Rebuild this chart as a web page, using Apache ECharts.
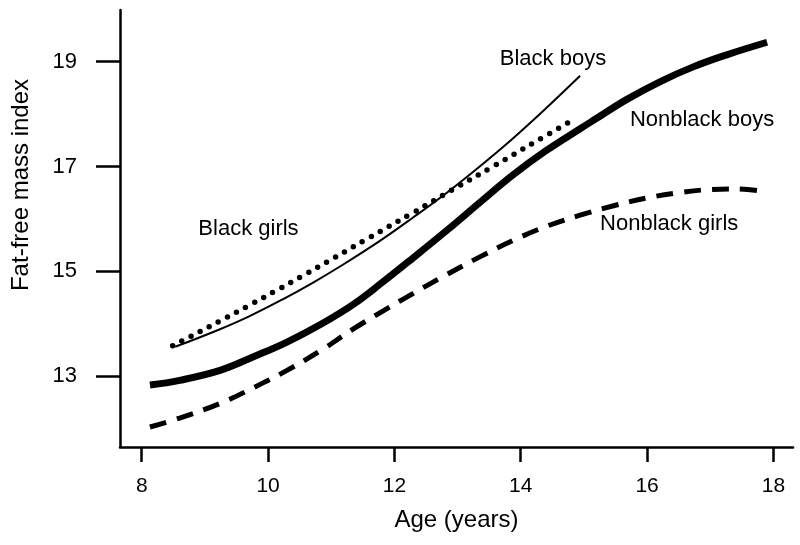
<!DOCTYPE html>
<html>
<head>
<meta charset="utf-8">
<script src="https://cdn.jsdelivr.net/npm/echarts@6/dist/echarts.min.js"></script>
<style>
html,body{margin:0;padding:0;background:#fff;}
#chart{width:800px;height:545px;}
</style>
</head>
<body>
<div id="chart"></div>
<script>
// Tick values
const xTicks = [8, 10, 12, 14, 16, 18];
const yTicks = [13, 15, 17, 19];

// Nonblack boys (thick solid)
const nbBoysAge = [8.13, 8.6, 9.24, 9.77, 10.3, 10.85, 11.35, 11.8, 12.3, 12.83, 13.35, 13.88, 14.4, 14.94, 15.15, 15.68, 16.21, 16.73, 17.26, 17.9];
const nbBoysVal = [12.83, 12.92, 13.11, 13.37, 13.65, 14.0, 14.37, 14.78, 15.26, 15.78, 16.31, 16.84, 17.3, 17.72, 17.88, 18.28, 18.62, 18.9, 19.13, 19.37];

// Black boys (thin solid)
const bBoysAge = [8.53, 9.19, 9.7, 10.24, 10.72, 11.19, 11.77, 12.3, 12.83, 13.35, 13.88, 14.4, 14.94];
const bBoysVal = [13.56, 13.87, 14.14, 14.47, 14.79, 15.13, 15.58, 16.03, 16.5, 17.0, 17.54, 18.11, 18.73];

// Black girls (dotted)
const bGirlsAge = [8.49, 8.81, 9.25, 9.7, 10.14, 10.6, 11.05, 11.6, 12.27, 12.91, 13.59, 14.23, 14.83];
const bGirlsVal = [13.58, 13.78, 14.06, 14.35, 14.64, 14.95, 15.26, 15.64, 16.1, 16.55, 17.02, 17.47, 17.89];

// Nonblack girls (dashed)
const nbGirlsAge = [8.13, 8.6, 9.24, 9.77, 10.3, 10.85, 11.35, 11.83, 12.3, 12.8, 13.36, 13.9, 14.41, 14.94, 15.47, 16.0, 16.5, 17.0, 17.4, 17.87];
const nbGirlsVal = [12.03, 12.2, 12.48, 12.78, 13.11, 13.5, 13.9, 14.25, 14.58, 14.92, 15.28, 15.6, 15.86, 16.07, 16.25, 16.4, 16.5, 16.56, 16.57, 16.52];

// Curve labels (text anchored at data coordinates)
const labelNames = ['Black boys', 'Nonblack boys', 'Nonblack girls', 'Black girls'];
const labelAges = [14.51, 16.87, 16.35, 9.69];
const labelVals = [19.06, 17.88, 15.91, 15.81];

const FONT = '"Liberation Sans", Arial, sans-serif';

function pairs(a, b) { return a.map((v, i) => [v, b[i]]); }

const chart = echarts.init(document.getElementById('chart'), null, {renderer: 'canvas'});

chart.setOption({
  animation: false,
  backgroundColor: '#fff',
  grid: {left: 120, right: 7, top: 10, bottom: 98, containLabel: false},
  xAxis: {
    type: 'value',
    min: 7.656,
    max: 18.31,
    splitLine: {show: false},
    axisLine: {show: true, onZero: false, lineStyle: {color: '#000', width: 2.5}},
    axisTick: {show: true, customValues: xTicks, length: 15, lineStyle: {color: '#000', width: 2.5}},
    axisLabel: {customValues: xTicks, margin: 29, color: '#000', fontSize: 21, fontFamily: FONT},
    name: 'Age (years)',
    nameLocation: 'middle',
    nameGap: 61,
    nameTextStyle: {color: '#000', fontSize: 24, fontFamily: FONT}
  },
  yAxis: {
    type: 'value',
    min: 11.648,
    max: 19.985,
    splitLine: {show: false},
    axisLine: {show: true, onZero: false, lineStyle: {color: '#000', width: 2.5}},
    axisTick: {show: true, customValues: yTicks, length: 24, lineStyle: {color: '#000', width: 2.5}},
    axisLabel: {customValues: yTicks, margin: 43, color: '#000', fontSize: 22, fontFamily: FONT}
  },
  graphic: [{
    type: 'text',
    x: 21,
    y: 185,
    rotation: Math.PI / 2,
    style: {
      text: 'Fat-free mass index',
      fill: '#000',
      font: '24px ' + FONT,
      textAlign: 'center',
      textVerticalAlign: 'middle'
    }
  }],
  series: [
    {
      name: 'Nonblack girls',
      type: 'line',
      data: pairs(nbGirlsAge, nbGirlsVal),
      showSymbol: false,
      smooth: 0.4,
      lineStyle: {color: '#000', width: 5, type: [17, 11], cap: 'butt'}
    },
    {
      name: 'Black girls',
      type: 'line',
      data: pairs(bGirlsAge, bGirlsVal),
      showSymbol: false,
      smooth: 0.4,
      lineStyle: {color: '#000', width: 5.5, type: [0, 10.3], cap: 'round'}
    },
    {
      name: 'Black boys',
      type: 'line',
      data: pairs(bBoysAge, bBoysVal),
      showSymbol: false,
      smooth: 0.4,
      lineStyle: {color: '#000', width: 2}
    },
    {
      name: 'Nonblack boys',
      type: 'line',
      data: pairs(nbBoysAge, nbBoysVal),
      showSymbol: false,
      smooth: 0.4,
      lineStyle: {color: '#000', width: 7}
    },
    {
      name: 'labels',
      type: 'scatter',
      silent: true,
      symbolSize: 1,
      itemStyle: {color: 'rgba(0,0,0,0)', opacity: 1},
      data: labelNames.map((n, i) => ({name: n, value: [labelAges[i], labelVals[i]]})),
      label: {
        show: true,
        position: 'inside',
        formatter: '{b}',
        color: '#000',
        opacity: 1,
        fontSize: 22,
        fontFamily: FONT
      },
      z: 10
    }
  ]
});
</script>
</body>
</html>
